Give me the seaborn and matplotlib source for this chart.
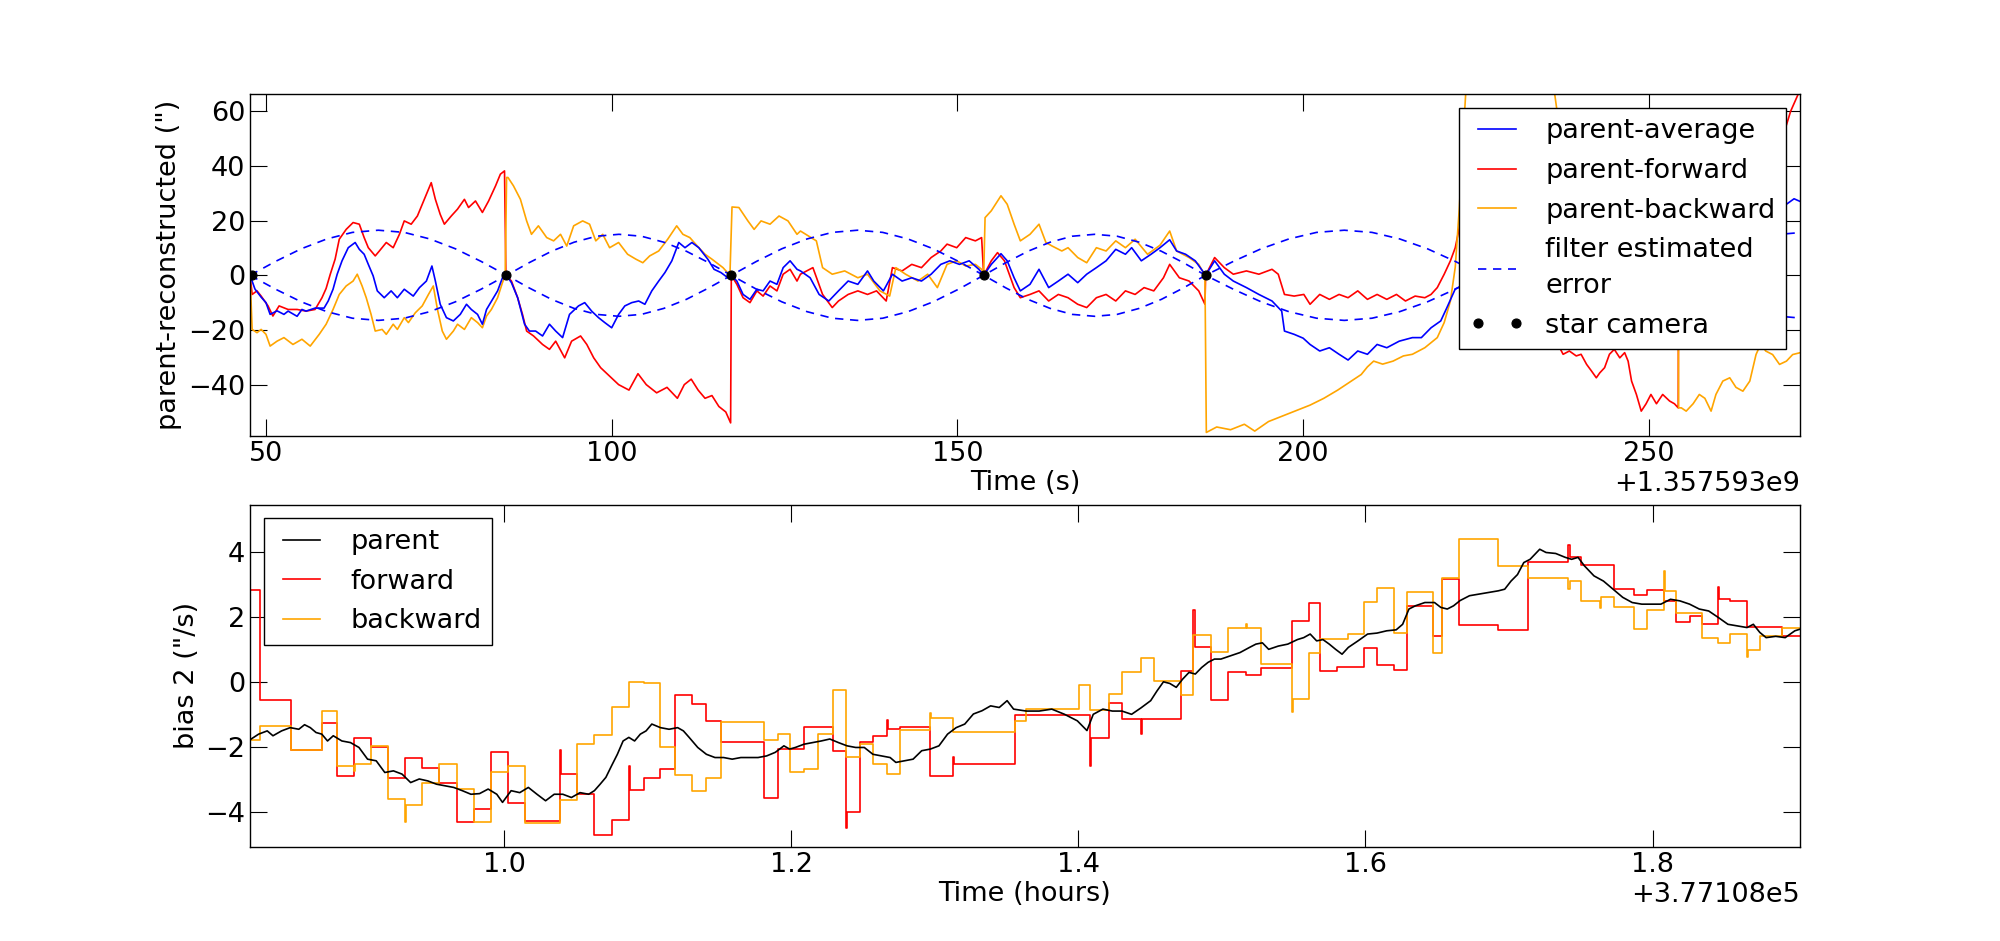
import numpy as np
import matplotlib
matplotlib.use("Agg")
import matplotlib.pyplot as plt
from matplotlib.ticker import MultipleLocator, ScalarFormatter
import seaborn as sns

# ---------------- data: top panel (time in s, offset 1.357593e9) ----------------
T0_S = 1357593000
T0_H = 377108

avg_pts = [(47.7,0.0),(48.4,-5.0),(49.3,-8.0),(50.0,-10.0),(50.6,-14.3),(51.6,-13.0),(52.6,-14.3),(53.2,-13.1),(54.5,-15.0),(55.2,-12.5),(55.8,-13.1),(57.1,-12.0),(58.4,-12.0),(59.0,-9.4),(59.7,-5.1),(60.3,0.4),(61.0,5.3),(61.9,10.1),(62.9,12.0),(63.5,9.5),(64.2,7.7),(64.8,4.0),(65.5,-0.2),(66.1,-5.7),(67.1,-8.2),(68.1,-5.7),(69.0,-8.2),(70.0,-5.1),(71.3,-7.6),(72.2,-4.5),(73.2,-2.1),(74.0,3.4),(74.5,-2.1),(75.2,-10.6),(76.1,-15.5),(77.1,-16.7),(78.1,-14.3),(79.0,-10.6),(79.7,-12.5),(80.6,-14.3),(81.3,-17.9),(81.9,-12.5),(82.9,-8.2),(83.5,-5.7),(84.2,-0.9),(84.8,0.0),(85.5,-2.7),(86.4,-8.2),(87.4,-17.9),(88.1,-20.4),(89.0,-20.4),(90.0,-22.2),(91.0,-17.9),(91.9,-20.4),(92.9,-22.8),(93.9,-14.3),(95.2,-11.2),(96.1,-10.0),(97.1,-13.1),(98.1,-15.5),(99.0,-17.3),(100.0,-19.2),(101.0,-14.3),(101.9,-11.2),(102.9,-10.0),(103.9,-9.4),(104.8,-10.6),(105.8,-5.7),(106.8,-2.1),(107.7,1.0),(108.7,5.3),(109.7,12.0),(110.6,10.1),(111.6,12.0),(112.6,10.1),(113.9,5.9),(114.8,2.2),(115.8,1.0),(116.8,-0.9),(117.3,0.0),(118.1,-2.1),(119.0,-7.0),(120.0,-8.8),(121.0,-5.1),(121.9,-5.7),(122.9,-2.1),(123.9,-3.3),(124.8,2.8),(125.8,5.3),(126.8,2.2),(127.3,1.6),(128.7,-0.9),(130.0,-7.0),(131.4,-9.4),(132.8,-5.7),(134.2,-2.1),(135.6,-3.3),(137.0,1.6),(137.9,-2.1),(139.3,-5.7),(140.6,0.4),(142.0,-2.1),(143.4,-0.9),(144.8,-2.1),(146.2,0.4),(147.6,4.0),(148.9,5.3),(150.3,4.0),(151.7,5.3),(153.1,2.2),(153.8,0.0),(154.9,4.0),(156.3,7.9),(157.2,5.3),(158.2,-0.9),(159.1,-5.7),(160.5,-3.3),(161.8,2.2),(163.2,-4.5),(164.6,-2.1),(166.0,0.4),(167.4,-2.7),(168.7,0.4),(170.1,2.8),(171.5,5.3),(172.9,9.5),(174.3,7.7),(175.2,10.1),(176.6,5.3),(178.0,7.7),(179.3,10.1),(180.7,13.0),(181.7,8.9),(183.0,7.7),(184.4,5.3),(185.9,0.0),(187.2,5.3),(188.6,0.4),(189.9,-2.1),(191.8,-4.5),(193.6,-7.0),(195.5,-9.4),(196.9,-13.1),(197.3,-20.4),(198.7,-21.6),(200.0,-23.0),(201.0,-25.3),(202.4,-27.7),(203.8,-26.5),(205.2,-28.9),(206.5,-31.0),(207.9,-27.7),(209.3,-28.9),(210.7,-25.3),(212.1,-26.5),(213.9,-24.1),(215.8,-22.8),(217.1,-22.8),(218.5,-19.2),(219.9,-16.7),(220.8,-11.8),(222.0,-5.0),(226.0,0.0),(229.0,5.0),(232.0,10.0),(236.0,12.0),(240.0,8.0),(245.0,5.0),(250.0,3.0),(254.3,0.0),(257.0,8.0),(262.0,15.0),(266.0,21.0),(269.9,26.0),(271.0,28.0),(271.9,27.0)]

fwd_pts = [(47.7,0.0),(48.0,-7.0),(48.7,-5.7),(49.3,-7.6),(50.3,-11.2),(51.0,-14.9),(51.9,-11.2),(53.2,-12.5),(54.5,-12.5),(55.8,-13.1),(57.1,-12.5),(58.1,-8.2),(58.7,-4.8),(59.3,0.4),(60.0,5.9),(60.6,13.2),(61.6,16.8),(62.6,19.3),(63.5,18.7),(64.2,13.8),(64.8,10.1),(65.8,7.1),(66.4,8.9),(67.4,12.0),(68.4,10.1),(69.3,15.0),(70.0,19.9),(71.0,18.7),(71.9,21.7),(72.9,27.8),(73.9,33.9),(74.5,27.8),(75.2,22.3),(75.8,18.7),(76.8,21.7),(77.7,24.2),(78.7,27.8),(79.3,24.8),(80.3,27.2),(81.3,23.0),(82.2,27.2),(83.2,32.7),(83.9,37.0),(84.5,38.2),(84.7,0.0),(85.5,-2.1),(86.4,-8.2),(87.1,-14.3),(87.7,-20.4),(88.7,-22.2),(90.0,-25.3),(91.0,-27.1),(91.9,-24.1),(93.2,-30.2),(94.2,-24.1),(95.5,-22.2),(96.4,-25.3),(97.4,-30.2),(98.4,-33.8),(99.7,-36.9),(101.0,-40.0),(102.5,-42.0),(103.8,-36.0),(105.0,-40.0),(106.5,-43.0),(108.0,-41.0),(109.5,-45.0),(110.5,-40.0),(111.5,-38.0),(112.5,-42.0),(113.5,-45.0),(114.5,-44.0),(115.5,-48.0),(116.5,-50.0),(117.2,-54.0),(117.3,0.0),(118.1,-3.3),(119.0,-8.2),(120.0,-10.0),(121.0,-5.7),(121.9,-7.6),(122.9,-3.9),(123.9,-5.7),(124.8,0.4),(125.8,2.2),(126.8,-2.1),(127.3,0.4),(129.1,2.8),(130.5,-7.0),(131.9,-11.8),(132.8,-9.4),(134.2,-7.0),(135.6,-5.7),(137.0,-7.0),(138.3,-5.7),(139.7,-9.4),(140.6,2.8),(142.0,1.6),(143.4,4.0),(144.8,2.8),(146.2,6.5),(147.6,8.9),(148.5,11.4),(149.9,10.1),(151.2,13.8),(152.6,12.6),(153.5,13.8),(153.8,0.0),(154.9,5.3),(155.8,8.3),(156.8,5.3),(158.2,-4.5),(159.1,-8.2),(160.5,-7.0),(161.8,-5.7),(163.2,-9.4),(164.6,-7.0),(166.0,-8.2),(167.4,-10.6),(168.7,-11.8),(170.1,-8.2),(171.5,-7.0),(172.9,-9.4),(174.3,-5.7),(175.7,-7.0),(177.0,-4.5),(178.4,-5.7),(179.8,-0.9),(180.7,4.0),(182.1,-0.9),(183.5,-2.1),(184.9,-5.7),(185.8,-10.6),(185.9,0.0),(187.2,6.5),(188.6,2.8),(189.9,0.4),(191.8,1.6),(193.6,0.4),(195.5,2.2),(196.4,0.4),(197.3,-7.0),(198.7,-7.6),(200.1,-7.0),(201.0,-10.6),(202.4,-7.0),(203.8,-8.8),(205.2,-7.0),(206.5,-8.2),(207.9,-5.7),(209.3,-8.8),(210.7,-7.0),(212.1,-8.8),(213.5,-7.0),(214.8,-9.4),(216.2,-7.6),(217.6,-8.2),(218.5,-7.0),(219.4,-4.5),(220.4,0.4),(221.3,5.3),(222.0,10.1),(223.6,30.0),(225.5,50.0),(227.0,55.0),(229.0,45.0),(231.0,25.0),(233.0,5.0),(235.0,-15.0),(237.1,-26.5),(237.6,-28.9),(238.5,-27.7),(239.5,-29.5),(240.2,-28.9),(241.0,-32.6),(241.7,-35.0),(242.4,-37.5),(242.9,-35.7),(243.6,-33.8),(244.3,-28.9),(245.0,-27.1),(245.8,-30.2),(246.5,-28.3),(247.0,-31.4),(247.5,-38.7),(248.2,-43.6),(248.9,-49.7),(249.6,-47.0),(250.3,-43.6),(251.1,-47.0),(252.0,-43.6),(253.0,-46.0),(253.7,-47.0),(254.25,-48.5),(254.3,0.0),(256.0,10.0),(260.0,25.0),(264.0,35.0),(268.0,45.0),(269.9,55.0),(270.5,60.0),(271.2,64.0),(271.9,68.0)]

bwd_pts = [(47.7,0.0),(48.0,-19.8),(48.7,-21.0),(49.3,-19.8),(50.0,-21.6),(50.6,-25.9),(51.6,-24.1),(52.6,-22.8),(53.9,-25.3),(55.2,-23.4),(56.4,-25.9),(57.7,-21.6),(58.7,-17.9),(59.7,-12.5),(60.6,-7.0),(61.6,-3.9),(62.6,-2.1),(63.2,0.4),(63.9,-3.9),(64.5,-8.2),(65.2,-14.3),(65.8,-20.4),(66.8,-19.8),(67.4,-21.6),(68.4,-17.9),(69.0,-19.8),(70.0,-15.5),(70.6,-17.3),(71.6,-13.7),(72.6,-11.2),(73.5,-7.0),(74.2,-3.9),(74.8,-12.5),(75.5,-20.4),(76.1,-23.4),(77.1,-20.4),(77.7,-17.9),(78.7,-19.8),(79.7,-15.5),(80.6,-17.3),(81.3,-19.2),(81.9,-14.9),(82.6,-12.5),(83.5,-8.2),(84.2,-2.7),(84.6,0.0),(84.8,35.8),(85.0,35.8),(85.8,32.7),(86.8,27.8),(87.7,19.9),(88.4,15.0),(89.4,18.1),(90.6,13.8),(91.6,12.6),(92.6,15.0),(93.5,10.7),(94.5,18.1),(95.8,19.9),(96.8,18.7),(97.7,12.6),(98.7,15.0),(99.7,10.1),(101.0,12.0),(102.3,7.7),(103.5,5.9),(104.5,4.6),(105.5,7.1),(106.8,8.9),(108.1,13.2),(109.4,18.1),(110.3,15.0),(111.3,13.8),(112.6,10.1),(113.5,7.7),(114.5,5.9),(116.1,2.8),(117.1,0.0),(117.4,25.0),(118.4,24.8),(119.7,19.9),(120.6,16.8),(121.6,19.9),(122.9,18.7),(124.2,21.7),(125.5,19.9),(126.8,15.0),(127.3,16.2),(129.6,12.6),(130.5,2.8),(131.9,0.4),(133.7,1.6),(135.6,-0.9),(137.0,0.4),(138.8,-5.7),(140.2,-7.6),(141.1,2.8),(142.5,0.4),(144.3,-2.1),(145.7,0.4),(147.1,-4.5),(148.5,4.0),(149.9,5.3),(151.2,3.4),(152.6,4.0),(153.5,2.2),(153.8,0.0),(154.0,21.1),(154.9,23.6),(156.3,29.1),(157.2,26.0),(158.2,18.7),(159.1,12.6),(160.5,15.0),(161.8,18.7),(162.8,12.0),(163.7,10.7),(165.1,8.9),(166.0,10.1),(167.4,6.5),(168.7,4.6),(170.1,10.1),(171.5,8.9),(172.9,12.6),(174.3,10.1),(175.7,13.2),(177.5,7.7),(179.3,11.0),(180.7,16.2),(181.7,8.9),(183.5,6.5),(184.9,4.0),(185.8,0.0),(186.0,-57.5),(187.5,-55.5),(189.5,-56.5),(191.5,-54.5),(193.0,-57.0),(195.0,-53.5),(197.0,-51.5),(199.0,-49.5),(201.0,-47.5),(203.0,-45.0),(205.0,-42.0),(206.8,-39.0),(208.4,-36.3),(209.3,-33.5),(210.2,-31.4),(211.5,-32.5),(213.0,-31.4),(214.5,-29.5),(215.8,-28.9),(217.6,-26.5),(219.4,-22.8),(220.4,-17.3),(221.3,-9.4),(222.0,3.0),(222.6,25.0),(223.0,45.0),(223.5,66.0),(224.0,85.0),(228.0,95.0),(232.0,90.0),(235.0,78.0),(236.4,66.0),(237.0,55.0),(240.0,45.0),(245.0,30.0),(250.0,12.0),(254.25,2.0),(254.3,-48.5),(254.7,-48.5),(255.4,-49.7),(256.4,-47.0),(257.3,-43.6),(258.1,-45.0),(259.0,-49.7),(259.7,-43.6),(260.7,-38.7),(261.7,-37.5),(262.6,-41.0),(263.6,-42.4),(264.6,-38.7),(265.5,-29.0),(266.2,-25.0),(266.9,-27.7),(267.9,-29.0),(268.9,-32.6),(269.9,-31.4),(270.8,-29.0),(271.9,-28.3)]

err_pts = [(47.7,0.0),(51.4,5.1),(55.1,9.7),(58.8,13.3),(62.5,15.7),(66.25,16.5),(70.0,15.7),(73.7,13.3),(77.4,9.7),(81.1,5.1),(84.8,0.0),
           (88.05,4.6),(91.3,8.8),(94.55,12.1),(97.8,14.3),(101.05,15.0),(104.3,14.3),(107.55,12.1),(110.8,8.8),(114.05,4.6),(117.3,0.0),
           (120.95,5.1),(124.6,9.7),(128.25,13.3),(131.9,15.7),(135.55,16.5),(139.2,15.7),(142.85,13.3),(146.5,9.7),(150.15,5.1),(153.8,0.0),
           (157.0,4.6),(160.2,8.8),(163.4,12.1),(166.6,14.3),(169.85,15.0),(173.1,14.3),(176.3,12.1),(179.5,8.8),(182.7,4.6),(185.9,0.0),
           (189.91,5.1),(193.92,9.7),(197.93,13.3),(201.94,15.7),(205.95,16.5),(209.96,15.7),(213.97,13.3),(217.98,9.7),(221.99,5.1),(226.0,0.0),
           (228.83,4.2),(231.66,7.9),(234.49,10.9),(237.32,12.8),(240.15,13.5),(242.98,12.8),(245.81,10.9),(248.64,7.9),(251.47,4.2),(254.3,0.0),
           (258.0,4.9),(261.6,9.3),(265.3,12.8),(269.0,15.0),(272.6,15.8)]

star_t = [48.0, 84.7, 117.3, 153.8, 185.9, 226.0, 254.3]
star_v = [0.0, 0.0, 0.0, 0.0, 0.0, 0.0, 0.0]

# ---------------- data: bottom panel (time in hours, offset 3.77108e5) ----------------
parent_pts = [(0.8238,-1.76),(0.8290,-1.61),(0.8350,-1.51),(0.8390,-1.66),(0.8450,-1.51),(0.8510,-1.41),(0.8570,-1.46),(0.8610,-1.32),(0.8650,-1.41),(0.8690,-1.56),(0.8730,-1.61),(0.8770,-1.82),(0.8810,-1.66),(0.8870,-1.82),(0.8930,-1.87),(0.8989,-2.02),(0.9049,-2.38),(0.9109,-2.43),(0.9169,-2.79),(0.9229,-2.74),(0.9289,-2.84),(0.9349,-3.10),(0.9409,-2.99),(0.9469,-3.05),(0.9529,-3.15),(0.9589,-3.20),(0.9649,-3.25),(0.9709,-3.35),(0.9769,-3.46),(0.9829,-3.44),(0.9889,-3.30),(0.9949,-3.46),(0.9989,-3.71),(1.0049,-3.35),(1.0109,-3.41),(1.0169,-3.25),(1.0229,-3.46),(1.0289,-3.66),(1.0349,-3.46),(1.0409,-3.46),(1.0469,-3.56),(1.0529,-3.41),(1.0589,-3.46),(1.0629,-3.35),(1.0669,-3.15),(1.0709,-2.94),(1.0749,-2.58),(1.0789,-2.23),(1.0829,-1.82),(1.0869,-1.71),(1.0909,-1.82),(1.0949,-1.61),(1.0989,-1.51),(1.1029,-1.30),(1.1089,-1.41),(1.1149,-1.46),(1.1209,-1.41),(1.1249,-1.51),(1.1289,-1.71),(1.1349,-2.02),(1.1409,-2.23),(1.1469,-2.33),(1.1529,-2.33),(1.1589,-2.38),(1.1649,-2.33),(1.1709,-2.33),(1.1769,-2.33),(1.1829,-2.28),(1.1889,-2.17),(1.1949,-1.97),(1.1989,-2.07),(1.2029,-2.02),(1.2089,-1.92),(1.2149,-1.87),(1.2209,-1.82),(1.2269,-1.76),(1.2329,-1.87),(1.2389,-1.97),(1.2449,-2.02),(1.2509,-2.02),(1.2569,-2.23),(1.2629,-2.28),(1.2689,-2.33),(1.2729,-2.48),(1.2789,-2.43),(1.2849,-2.38),(1.2909,-2.12),(1.2969,-2.07),(1.3029,-1.97),(1.3089,-1.61),(1.3149,-1.41),(1.3209,-1.30),(1.3269,-0.99),(1.3329,-0.89),(1.3389,-0.74),(1.3449,-0.79),
              (1.3504,-0.58),(1.3549,-0.84),(1.3638,-0.90),(1.3727,-0.90),(1.3815,-0.84),(1.3904,-1.00),(1.3993,-1.20),(1.4060,-1.50),(1.4104,-1.00),(1.4171,-0.84),(1.4237,-0.90),(1.4304,-0.90),(1.4371,-1.00),(1.4437,-0.80),(1.4504,-0.58),(1.4548,-0.28),(1.4593,0.00),(1.4637,-0.05),(1.4682,-0.17),(1.4726,0.08),(1.4771,0.29),(1.4815,0.24),(1.4859,0.44),(1.4904,0.60),(1.4948,0.70),(1.4993,0.70),(1.5059,0.80),(1.5126,0.90),(1.5193,1.06),(1.5237,1.16),(1.5282,1.20),(1.5326,1.00),(1.5393,1.10),(1.5459,1.16),(1.5526,1.30),(1.5570,1.36),(1.5615,1.47),(1.5660,1.26),(1.5704,1.30),(1.5748,1.16),(1.5792,1.00),(1.5837,0.85),(1.5881,1.06),(1.5948,1.26),(1.6015,1.47),(1.6081,1.50),(1.6148,1.57),(1.6214,1.60),(1.6259,1.77),(1.6303,2.24),(1.6348,2.34),(1.6414,2.44),(1.6481,2.44),(1.6525,2.29),(1.6570,2.24),(1.6614,2.34),(1.6659,2.50),(1.6725,2.65),(1.6792,2.70),(1.6859,2.75),(1.6925,2.80),(1.6970,2.85),(1.7014,3.10),(1.7059,3.30),(1.7103,3.67),(1.7147,3.77),(1.7214,4.08),(1.7258,3.98),(1.7325,3.95),(1.7392,3.83),(1.7436,3.77),(1.7481,3.83),(1.7525,3.57),(1.7592,3.26),(1.7658,3.10),(1.7725,2.85),(1.7792,2.60),(1.7858,2.44),(1.7925,2.39),(1.7991,2.39),(1.8058,2.39),(1.8125,2.54),(1.8191,2.49),(1.8258,2.39),(1.8325,2.24),(1.8391,2.18),(1.8458,1.98),(1.8525,1.77),(1.8591,1.72),(1.8658,1.67),(1.8702,1.77),(1.8747,1.52),(1.8791,1.36),(1.8858,1.40),(1.8924,1.36),(1.8991,1.57),(1.9027,1.62)]

fwd_step = [(0.8230,2.82),(0.8298,-0.55),(0.8518,-2.10),(0.8730,-1.28),(0.8838,-2.90),(0.8954,-1.74),(0.9070,-2.00),(0.9190,-2.97),(0.9310,-2.35),(0.9429,-2.66),(0.9549,-3.10),(0.9669,-4.30),(0.9789,-3.90),(0.9909,-2.15),(1.0029,-3.73),(1.0149,-4.28),(1.0389,-2.10),(1.0397,-2.84),(1.0509,-3.46),(1.0629,-4.70),(1.0749,-4.26),(1.0869,-2.60),(1.0877,-3.33),(1.0977,-2.97),(1.1089,-2.67),(1.1189,-0.41),(1.1309,-0.67),(1.1409,-1.22),(1.1509,-1.84),(1.1809,-3.58),(1.1909,-2.07),(1.2089,-1.40),(1.2289,-2.14),(1.2381,-4.50),(1.2389,-4.00),(1.2481,-1.84),(1.2569,-1.68),(1.2669,-1.18),(1.2677,-1.46),(1.2761,-1.38),(1.2969,-2.89),(1.3129,-2.30),(1.3137,-2.53),(1.3558,-1.03),(1.4082,-2.58),(1.4090,-1.74),(1.4215,-0.64),(1.4304,-1.15),(1.4437,-1.60),(1.4445,-1.15),(1.4526,-1.13),(1.4713,0.32),(1.4802,2.20),(1.4810,1.06),(1.4926,-0.56),(1.5046,0.29),(1.5170,0.20),(1.5273,0.44),(1.5486,1.86),(1.5606,2.44),(1.5681,0.34),(1.5801,0.47),(1.5992,1.03),(1.6081,0.51),(1.6201,0.36),(1.6290,2.32),(1.6468,1.42),(1.6534,3.16),(1.6650,1.75),(1.6925,1.59),(1.7134,3.70),(1.7414,4.20),(1.7422,3.83),(1.7503,3.60),(1.7734,2.85),(1.7872,2.67),(1.7960,2.83),(1.8080,2.50),(1.8160,1.83),(1.8258,2.03),(1.8347,1.77),(1.8458,2.92),(1.8466,2.56),(1.8538,2.49),(1.8658,1.69),(1.8902,1.42),(1.9027,1.42)]

bwd_step = [(0.8230,-1.80),(0.8298,-1.37),(0.8518,-2.10),(0.8730,-0.91),(0.8838,-2.60),(0.8954,-2.74),(0.8962,-2.53),(0.9070,-1.97),(0.9190,-3.60),(0.9310,-4.30),(0.9318,-3.78),(0.9429,-3.10),(0.9549,-2.53),(0.9669,-3.30),(0.9789,-4.30),(0.9909,-2.79),(1.0029,-2.58),(1.0149,-4.33),(1.0389,-3.64),(1.0509,-1.92),(1.0629,-1.64),(1.0749,-0.77),(1.0869,0.00),(1.0977,-0.05),(1.1089,-2.00),(1.1189,-2.86),(1.1309,-3.35),(1.1409,-2.96),(1.1509,-1.25),(1.1809,-1.80),(1.1909,-1.60),(1.1989,-2.76),(1.2089,-2.69),(1.2189,-1.60),(1.2289,-0.26),(1.2381,-2.30),(1.2481,-1.92),(1.2569,-2.53),(1.2669,-2.84),(1.2761,-1.49),(1.2969,-0.97),(1.2977,-1.12),(1.3129,-1.54),(1.3558,-1.20),(1.3638,-0.84),(1.4002,-0.10),(1.4082,-0.86),(1.4215,-0.38),(1.4304,0.31),(1.4437,0.73),(1.4526,0.01),(1.4713,-0.40),(1.4802,1.44),(1.4926,0.92),(1.5046,1.67),(1.5170,1.77),(1.5178,1.67),(1.5273,0.54),(1.5486,-0.94),(1.5494,-0.53),(1.5606,0.90),(1.5681,1.33),(1.5881,1.47),(1.5992,2.47),(1.6081,2.88),(1.6201,1.50),(1.6290,2.75),(1.6468,0.88),(1.6534,3.19),(1.6650,4.41),(1.6925,3.57),(1.7134,3.19),(1.7414,2.85),(1.7422,3.10),(1.7503,2.50),(1.7636,2.28),(1.7644,2.62),(1.7734,2.31),(1.7872,1.62),(1.7960,2.22),(1.8080,3.40),(1.8088,2.80),(1.8160,2.11),(1.8347,1.36),(1.8458,1.21),(1.8538,1.47),(1.8658,0.75),(1.8666,0.98),(1.8747,1.40),(1.8902,1.67),(1.9027,1.67)]

# ---------------- style ----------------
FS = 19.5
plt.rcParams.update({
    "font.family": ["DejaVu Sans"],
    "font.size": FS,
    "axes.linewidth": 1.0,
    "axes.edgecolor": "black",
    "xtick.direction": "in",
    "ytick.direction": "in",
    "xtick.top": True,
    "ytick.right": True,
    "xtick.major.size": 12,
    "ytick.major.size": 12,
    "xtick.major.width": 0.8,
    "ytick.major.width": 0.8,
    "xtick.minor.visible": False,
    "ytick.minor.visible": False,
})

def split(pts):
    a = np.array(pts, dtype=float)
    return a[:, 0], a[:, 1]

fig, (ax1, ax2) = plt.subplots(2, 1, figsize=(20, 9.41), dpi=100)
fig.subplots_adjust(left=0.125, right=0.9, bottom=0.1, top=0.9, hspace=0.2)

LW = 1.2
# top panel
t, v = split(fwd_pts)
sns.lineplot(x=T0_S + t, y=v, ax=ax1, color="red", lw=LW, estimator=None, sort=False, label="parent-forward")
t, v = split(bwd_pts)
sns.lineplot(x=T0_S + t, y=v, ax=ax1, color="#FFA500", lw=LW, estimator=None, sort=False, label="parent-backward")
t, v = split(avg_pts)
sns.lineplot(x=T0_S + t, y=v, ax=ax1, color="blue", lw=LW, estimator=None, sort=False, label="parent-average")
t, v = split(err_pts)
sns.lineplot(x=T0_S + t, y=v, ax=ax1, color="blue", lw=LW, linestyle=(0, (5, 4)),
             estimator=None, sort=False, label="filter estimated\nerror")
sns.lineplot(x=T0_S + t, y=-v, ax=ax1, color="blue", lw=LW, linestyle=(0, (5, 4)),
             estimator=None, sort=False, legend=False)
sns.lineplot(x=T0_S + np.array(star_t), y=star_v, ax=ax1, color="black", marker="o", linestyle="",
             markersize=6.5, markeredgecolor="black", markeredgewidth=0.8,
             estimator=None, sort=False, label="star camera")

ax1.set_xlim(T0_S + 47.69, T0_S + 271.86)
ax1.set_ylim(-58.9, 66.3)
ax1.xaxis.set_major_locator(MultipleLocator(50))
ax1.yaxis.set_major_locator(MultipleLocator(20))
ax1.xaxis.set_major_formatter(ScalarFormatter(useOffset=T0_S))
ax1.set_xlabel("Time (s)", fontsize=FS, labelpad=2)
ax1.set_ylabel('parent-reconstructed (")', fontsize=FS)

h, l = ax1.get_legend_handles_labels()
order = ["parent-average", "parent-forward", "parent-backward", "filter estimated\nerror", "star camera"]
hd = dict(zip(l, h))
leg1 = ax1.legend([hd[k] for k in order], order, loc="upper right", fontsize=FS, numpoints=2,
                  fancybox=False, edgecolor="black", framealpha=1, labelspacing=0.5,
                  borderpad=0.4, handlelength=2.0, handletextpad=0.8, borderaxespad=0.5)
leg1.get_frame().set_linewidth(1.0)
for txt in leg1.get_texts():
    txt.set_linespacing(1.5)

# bottom panel
t, v = split(fwd_step)
sns.lineplot(x=T0_H + t, y=v, ax=ax2, color="red", lw=LW, drawstyle="steps-post",
             estimator=None, sort=False, label="forward")
t, v = split(bwd_step)
sns.lineplot(x=T0_H + t, y=v, ax=ax2, color="#FFA500", lw=LW, drawstyle="steps-post",
             estimator=None, sort=False, label="backward")
t, v = split(parent_pts)
sns.lineplot(x=T0_H + t, y=v, ax=ax2, color="black", lw=LW, estimator=None, sort=False, label="parent")

ax2.set_xlim(T0_H + 0.823, T0_H + 1.9027)
ax2.set_ylim(-5.08, 5.45)
ax2.xaxis.set_major_locator(MultipleLocator(0.2))
ax2.yaxis.set_major_locator(MultipleLocator(2))
ax2.xaxis.set_major_formatter(ScalarFormatter(useOffset=T0_H))
ax2.set_xlabel("Time (hours)", fontsize=FS, labelpad=2)
ax2.set_ylabel('bias 2 ("/s)', fontsize=FS)

h, l = ax2.get_legend_handles_labels()
order2 = ["parent", "forward", "backward"]
hd2 = dict(zip(l, h))
leg2 = ax2.legend([hd2[k] for k in order2], order2, loc="upper left", fontsize=FS, numpoints=2,
                  fancybox=False, edgecolor="black", framealpha=1, labelspacing=0.5,
                  borderpad=0.4, handlelength=2.0, handletextpad=0.8, borderaxespad=0.5)
leg2.get_frame().set_linewidth(1.0)

for ax in (ax1, ax2):
    ax.tick_params(labelsize=FS)
    ax.xaxis.get_offset_text().set_fontsize(FS)

fig.savefig("out.png", dpi=100)
